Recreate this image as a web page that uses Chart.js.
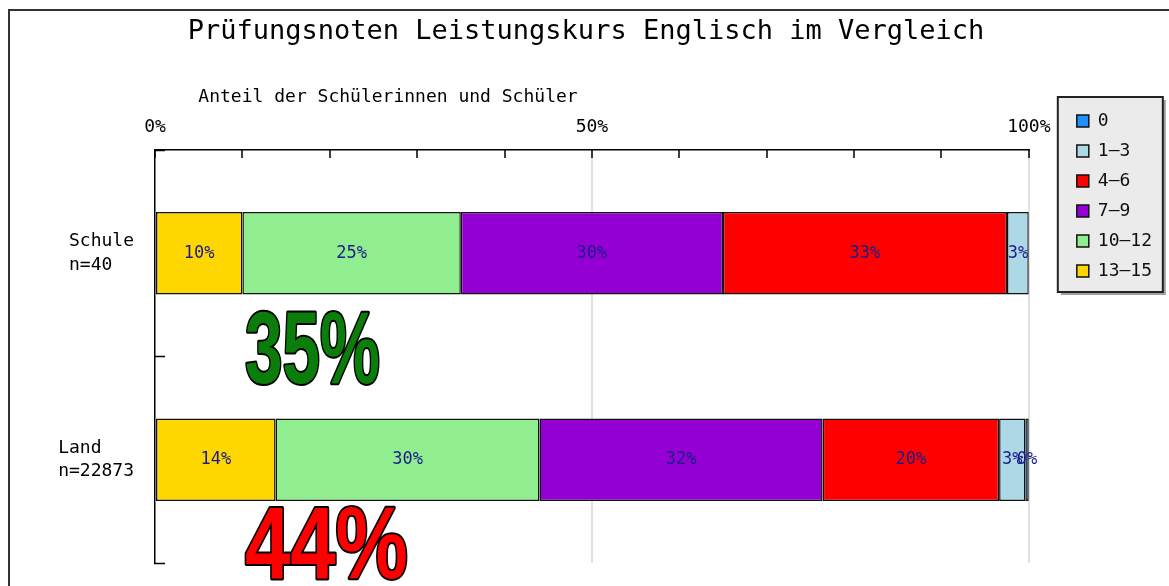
<!DOCTYPE html>
<html>
<head>
<meta charset="utf-8">
<script src="https://cdn.jsdelivr.net/npm/chart.js@4.4.0/dist/chart.umd.min.js"></script>
<style>
html, body { margin: 0; padding: 0; background: #fff; }
canvas { display: block; }
</style>
</head>
<body>
<canvas id="chartnoten" width="1169" height="586"></canvas>
<script>
// Daten (Anteile in Prozent)
var kategorien = [['Schule', 'n=40  '], ['Land   ', 'n=22873']];
var notenstufen = ['13–15', '10–12', '7–9', '4–6', '1–3', '0'];
var anteilSchule = [10, 25, 30, 32.5, 2.5, 0];
var anteilLand = [13.8, 30.2, 32.4, 20.2, 3.0, 0.4];
var beschrifteteTicks = [0, 50, 100];
var farben = ['#ffd700', '#90ee90', '#9400d3', '#ff0000', '#add8e6', '#1e90ff'];

// grosse Zahlen: 13-15 und 10-12 zusammen
var hervorhebung = [
    { wert: anteilSchule[0] + anteilSchule[1], farbe: '#0a7d0a', breite: 135, abstand: 130 },
    { wert: anteilLand[0] + anteilLand[1], farbe: '#ff0000', breite: 163, abstand: 118 }
];

var mono = '"DejaVu Sans Mono", "Liberation Mono", monospace';
Chart.defaults.font.family = mono;
Chart.defaults.color = '#000';

var datasets = notenstufen.map(function (stufe, i) {
    return {
        label: stufe,
        data: [anteilSchule[i], anteilLand[i]],
        backgroundColor: farben[i],
        borderColor: '#111',
        borderWidth: 1.5,
        borderSkipped: false,
        barPercentage: 0.4,
        categoryPercentage: 1
    };
});

var extras = {
    id: 'extras',
    beforeDraw: function (chart) {
        var c = chart.ctx;
        c.save();
        c.fillStyle = '#fff';
        c.fillRect(0, 0, chart.width, chart.height);
        // Rahmen
        c.strokeStyle = '#333';
        c.lineWidth = 2;
        c.beginPath();
        c.moveTo(9, chart.height);
        c.lineTo(9, 10);
        c.lineTo(chart.width, 10);
        c.stroke();
        // Legendenkasten
        var hb = chart.legend.legendHitBoxes;
        if (hb && hb.length) {
            var first = hb[0], last = hb[hb.length - 1];
            var x = first.left - 19, y = first.top - 15;
            var w = 105, h = last.top + last.height - first.top + 27;
            c.fillStyle = '#a0a0a0';
            c.fillRect(x + 3, y + 3, w, h);
            c.fillStyle = '#ebebeb';
            c.fillRect(x, y, w, h);
            c.strokeStyle = '#222';
            c.strokeRect(x, y, w, h);
        }
        c.restore();
    },
    afterDatasetsDraw: function (chart) {
        var c = chart.ctx;
        c.save();
        c.font = '17px ' + mono;
        c.fillStyle = '#1c1c8a';
        c.textAlign = 'center';
        c.textBaseline = 'middle';
        chart.data.datasets.forEach(function (ds, i) {
            chart.getDatasetMeta(i).data.forEach(function (el, j) {
                var v = ds.data[j];
                if (!v) return;
                var p = el.getCenterPoint();
                c.fillText(Math.round(v) + '%', p.x, p.y);
            });
        });
        c.restore();
    },
    afterDraw: function (chart) {
        var c = chart.ctx;
        var xs = chart.scales.x, ys = chart.scales.y;
        hervorhebung.forEach(function (h, i) {
            var txt = Math.round(h.wert) + '%';
            c.save();
            c.font = 'bold 102px "Liberation Sans Narrow", "Liberation Sans", sans-serif';
            var sx = h.breite / c.measureText(txt).width;
            c.translate(xs.getPixelForValue(10.3), ys.getPixelForValue(i) + h.abstand);
            c.scale(sx, 1);
            c.textAlign = 'left';
            c.textBaseline = 'alphabetic';
            c.lineJoin = 'round';
            c.lineWidth = 4;
            c.strokeStyle = '#000';
            c.strokeText(txt, 0, 0);
            c.fillStyle = h.farbe;
            c.fillText(txt, 0, 0);
            c.restore();
        });
    }
};

new Chart(document.getElementById('chartnoten'), {
    type: 'bar',
    data: { labels: kategorien, datasets: datasets },
    options: {
        indexAxis: 'y',
        responsive: false,
        animation: false,
        layout: { padding: { left: 10, right: 7, top: 10, bottom: 23 } },
        plugins: {
            title: {
                display: true,
                text: 'Prüfungsnoten Leistungskurs Englisch im Vergleich',
                font: { size: 27, weight: 'normal' },
                color: '#000',
                padding: { top: 6, bottom: 0 }
            },
            legend: {
                position: 'right',
                align: 'start',
                reverse: true,
                title: { display: true, text: ' ', font: { size: 1 }, padding: { top: 88.8, bottom: 0 } },
                labels: { boxWidth: 12, boxHeight: 12, padding: 12, font: { size: 18 }, color: '#111' }
            },
            tooltip: { enabled: false }
        },
        scales: {
            x: {
                type: 'linear',
                position: 'top',
                stacked: true,
                min: 0,
                max: 100,
                ticks: {
                    stepSize: 10,
                    padding: 20,
                    autoSkip: false,
                    maxRotation: 0,
                    font: { size: 18 },
                    color: '#000',
                    callback: function (v) {
                        return beschrifteteTicks.indexOf(v) >= 0 ? v + '%' : '';
                    }
                },
                grid: {
                    color: function (ctx) {
                        return ctx.tick && (ctx.tick.value === 50 || ctx.tick.value === 100) ? '#e0e0e0' : 'rgba(0,0,0,0)';
                    },
                    lineWidth: 2,
                    tickColor: '#000',
                    tickWidth: 1.5,
                    tickLength: -8
                },
                border: { color: '#000', width: 1.5 },
                title: {
                    display: true,
                    text: '    Anteil der Schülerinnen und Schüler',
                    align: 'start',
                    font: { size: 18 },
                    color: '#000',
                    padding: { top: 38, bottom: 8.6 }
                },
                afterFit: function (s) { s.height = 101.6; s.paddingLeft = 0; s.paddingRight = 0; }
            },
            y: {
                stacked: true,
                ticks: { font: { size: 18, lineHeight: 1.3 }, color: '#000', padding: 31 },
                grid: { drawOnChartArea: false, offset: true, tickLength: -10, tickColor: '#000', tickWidth: 1.5 },
                border: { color: '#000', width: 1.5 },
                afterFit: function (s) { s.width = 145; s.paddingTop = 0; s.paddingBottom = 0; }
            },
            yRechts: {
                axis: 'y',
                type: 'linear',
                position: 'right',
                ticks: { display: false },
                grid: { display: false },
                border: { display: false },
                afterFit: function (s) { s.width = 36; s.paddingTop = 0; s.paddingBottom = 0; }
            }
        }
    },
    plugins: [extras]
});
</script>
</body>
</html>
